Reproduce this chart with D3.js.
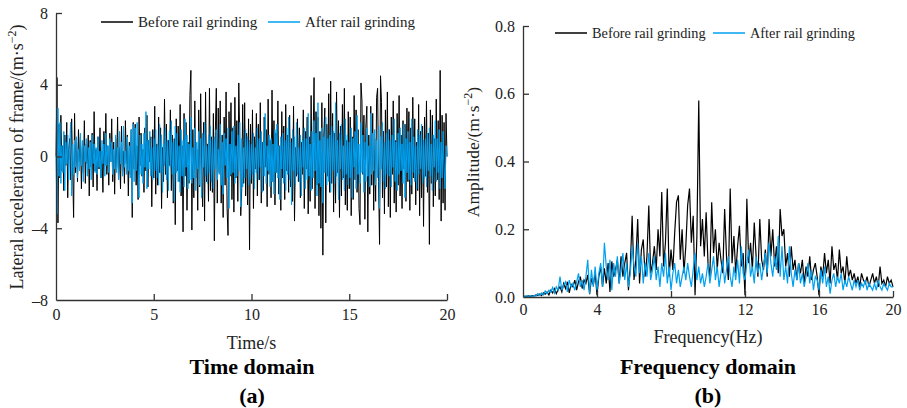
<!DOCTYPE html>
<html>
<head>
<meta charset="utf-8">
<script src="https://cdn.jsdelivr.net/npm/d3@7"></script>
<style>
  body { margin: 0; background: #fff; }
  svg { font-family: "Liberation Serif", "Times New Roman", serif; }
</style>
</head>
<body>
<svg id="chart" width="907" height="408"></svg>
<script>
"use strict";

// ---- data ----
const SERIES_NAMES = ["Before rail grinding", "After rail grinding"];
const TIME_STEP = 0.05; // s
const FREQ_STEP = 0.1; // Hz
const TIME_TICKS = [0, 5, 10, 15, 20];
const ACC_TICKS = [-8, -4, 0, 4, 8];
const FREQ_TICKS = [0, 4, 8, 12, 16, 20];
const AMP_TICKS = [0, 0.2, 0.4, 0.6, 0.8];

// lateral acceleration, before grinding (one row per second)
const accBefore = [
  0, 4.4, -3.7, 1.8, -1.2, 2.3, -0.8, 0.6, -1.9, 1.2, -0.5, 1.9, -2.3, 0.4, 1.0, -1.3, 2.1, -0.6, -3.4, 2.4,
  -0.9, 0.8, -1.4, 1.5, -0.3, 1.1, -1.8, 0.5, -0.9, 2.0, -1.5, 0.7, -0.4, 1.2, -2.2, 0.9, -0.6, 1.3, -1.7, 2.5,
  -0.8, 0.4, -1.9, 1.1, -0.7, 1.6, -1.2, 0.3, -2.0, 1.4, -0.5, 2.4, -1.0, 0.6, -1.6, 1.3, -0.3, 2.1, -1.4, 0.8,
  -2.1, 1.0, -0.6, 2.2, -1.3, 0.5, -1.8, 1.7, -0.9, 0.3, -1.5, 2.0, -0.4, 1.2, -2.2, 0.8, -1.0, 1.5, -3.4, 1.9,
  -0.7, 1.8, -1.6, 0.6, -2.4, 2.2, -0.5, 1.3, -1.1, 0.4, -2.0, 1.6, -0.8, 2.3, -1.7, 0.9, -0.3, 1.1, -2.8, 1.5,
  -1.2, 2.8, -2.1, 0.7, -1.6, 2.2, -0.9, 1.6, -2.9, 0.5, -1.4, 3.2, -1.0, 1.8, -2.3, 0.9, -0.5, 2.6, -1.9, 1.2,
  -2.6, 1.0, -3.8, 2.1, -0.8, 1.7, -1.4, 2.9, -2.2, 0.6, -4.2, 2.4, -1.1, 1.9, -3.0, 0.8, -1.5, 3.4, 4.8, -4.1,
  1.5, -2.3, 3.1, -1.2, 0.4, -3.0, 2.6, -1.7, 3.5, -0.8, -2.8, 1.9, -3.6, 3.6, -1.4, 0.7, -2.5, 3.8, -1.9, 1.1,
  -2.0, 2.4, -4.7, 1.4, 3.8, -2.6, 2.7, -0.9, 3.1, -2.6, 1.2, -3.4, 2.2, -1.6, 3.6, -2.9, -4.4, 2.5, -1.1, 3.0,
  -2.4, 1.6, -3.1, 3.3, -1.2, 2.0, -2.5, 4.1, 0.9, -3.3, -1.8, 2.9, -1.5, 3.0, -2.2, 1.3, -2.7, 2.1, -5.2, 1.8,
  -1.5, 2.6, -2.9, 1.1, -0.7, 2.4, -2.2, 1.8, -1.3, 3.0, -2.6, 0.8, -1.9, 2.2, -0.6, 1.5, -2.8, 3.2, -1.0, 0.9,
  -2.3, 3.7, -1.4, 2.0, -2.7, 1.3, -0.9, 3.1, -2.1, 0.6, -3.0, 2.5, -1.2, 1.7, -2.4, 2.9, -0.8, 1.2, -2.0, 2.3,
  -1.7, 1.0, -2.5, 2.8, -3.6, 0.5, -1.1, 2.1, -1.4, 1.6, -2.3, 0.8, -1.0, 2.6, -2.9, 1.4, -0.7, 2.2, -3.2, 1.1,
  -2.5, 3.4, -1.8, 0.9, 4.4, -2.9, 2.5, -1.6, 2.2, -3.3, 1.4, -4.0, 3.0, -5.5, 1.2, 2.7, -3.7, 1.8, -1.1, 3.5,
  -2.0, 4.2, -1.5, 2.4, -3.1, 1.3, -2.6, 3.6, -0.9, 2.0, -3.4, 1.7, -2.2, 2.9, -1.2, 3.8, -2.7, 0.9, -3.0, 2.5,
  -1.8, 2.2, -3.3, 1.1, -2.4, 3.4, -1.3, 2.6, -2.0, 1.5, -2.9, -3.8, 4.1, 3.1, -1.0, 2.3, -3.5, 1.7, 2.8, -4.2,
  1.2, -2.1, 2.8, -1.6, 2.4, -3.0, 1.0, -2.5, 3.3, 3.8, -1.4, -4.9, 4.5, 3.0, -2.3, 1.4, -3.2, 2.6, -1.7, 3.6,
  -2.8, 1.5, -3.4, 2.2, -1.0, 3.1, -2.6, 0.9, -3.1, 2.4, -1.6, 3.4, -2.2, 1.2, -2.9, 2.0, -0.7, 1.8, -2.5, 2.7,
  -1.4, 2.5, -3.0, 1.6, -2.1, 3.3, -1.2, 2.1, -2.7, 0.8, -1.9, 2.9, -3.3, 1.4, -2.3, 1.7, -3.9, 2.2, -1.1, 3.1,
  -2.0, 1.3, -4.9, 2.6, -1.5, 2.3, -2.8, 1.0, -2.2, 3.2, -1.3, 2.0, -2.4, 4.8, -3.6, 2.3, -2.6, 1.9, -3.0, 2.4,
  0
];

// lateral acceleration, after grinding
const accAfter = [
  0, -3.2, 2.7, -1.1, 1.9, -1.5, 0.6, -0.9, 1.4, -1.9, 0.8, -0.4, 1.2, -1.3, 0.5, 1.9, -2.2, 0.7, -1.0, 0.9,
  -0.6, 1.1, -1.2, 0.4, -0.8, 1.3, -0.5, 0.9, -1.4, 0.6, -0.3, 1.0, -1.1, 0.5, -0.7, 0.8, -1.3, 1.2, -0.4, 0.7,
  -0.9, 0.5, -1.0, 1.1, -0.6, 0.3, -1.2, 0.9, -0.4, 0.7, -1.1, 1.3, -0.5, 0.6, -0.9, 1.0, -0.3, 0.8, -1.0, 0.4,
  -0.7, 1.2, -0.9, 0.5, -1.3, 1.4, -0.4, 0.8, -1.1, 1.7, -0.6, 0.3, -1.0, 1.1, -0.8, 0.6, -1.2, 1.5, -2.6, 1.8,
  -1.4, 1.6, -0.8, 1.9, -0.5, -2.3, 1.2, -1.0, 0.7, -1.5, 1.3, -0.6, 2.5, -1.8, 0.9, -0.7, 1.4, -1.1, 0.5, -1.3,
  1.0, -0.8, 1.5, -1.2, 0.6, -1.6, 1.8, -0.9, 1.2, -2.0, 0.7, -0.5, 1.6, -1.3, 0.9, -1.9, 1.4, -0.6, 2.0, -1.0,
  0.8, -2.5, 1.7, -0.9, 1.3, -1.4, 0.6, -2.0, 1.5, -1.1, 0.9, -1.7, 2.1, -0.6, 1.2, -1.8, 0.7, -1.3, 2.2, -1.5,
  0.5, -1.2, 1.6, -1.9, 0.8, -0.7, 1.4, -1.6, 1.0, -2.3, 1.3, -0.6, 1.9, -1.1, 0.6, -1.5, 1.2, -0.9, 1.7, -1.4,
  0.9, -1.8, 1.1, -0.7, 1.5, -1.3, 0.4, -1.0, 1.8, -1.6, 0.8, -2.1, 1.3, -0.5, 1.0, -1.2, 1.6, -2.9, 0.7, -1.0,
  1.4, -0.9, 1.7, -1.5, 0.6, -1.1, 1.2, -0.8, 1.9, -2.8, 1.0, -1.7, 0.5, -1.2, 1.5, -0.7, 1.1, -1.6, 0.9, -1.3,
  0.7, -1.0, 1.3, -1.8, 0.5, -0.9, 1.6, -1.3, 1.0, -0.6, 1.4, -2.0, 0.8, -1.1, 2.4, -1.5, 0.6, -0.8, 1.2, -1.7,
  1.0, -1.4, 0.7, -2.1, 1.5, -0.9, 1.8, -1.2, 0.6, -2.4, 1.1, -0.7, 1.3, -1.5, 0.9, -1.9, 1.6, -1.0, 2.2, -1.3,
  0.8, -2.7, 1.5, -0.8, 1.1, -1.6, 1.9, -1.0, 0.5, -1.4, 1.2, -2.2, 0.9, -0.6, 1.6, -1.8, 1.0, -1.3, 2.4, -1.1,
  0.7, -1.9, 1.4, -1.2, 2.0, -0.8, 1.3, -2.2, 3.0, -1.5, 0.9, -1.7, 1.6, -2.6, 1.1, -0.9, 2.2, -1.6, 1.0, -1.4,
  1.2, -2.0, 1.7, -0.8, 1.4, -1.5, 3.0, -1.1, 0.9, -2.4, 1.3, -0.7, 1.8, -1.3, 0.6, -1.9, 2.1, -1.0, 1.2, -1.6,
  0.8, -1.2, 1.6, -2.3, 1.0, -0.6, 1.4, -1.8, 2.3, -1.0, 0.7, -1.5, 1.9, -0.9, 1.2, -2.0, 0.8, -1.4, 1.6, -1.1,
  0.6, -1.7, 2.4, -1.0, 1.3, -0.8, 1.5, -1.6, 0.9, -1.2, 1.7, -2.9, 1.1, -0.7, 1.9, -1.4, 0.8, -1.8, 1.3, -1.0,
  1.5, -1.1, 0.9, -1.7, 1.2, -0.6, 2.1, -1.4, 0.8, -1.9, 1.3, -1.0, 1.6, -0.8, 0.7, -1.5, 1.8, -2.3, 1.0, -0.9,
  1.4, -1.3, 0.8, -1.6, 2.1, -0.9, 1.1, -1.4, 0.6, -1.8, 1.5, -1.0, 1.2, -0.7, 1.8, -1.5, 0.9, -1.2, 1.0, -1.7,
  1.3, -0.8, 1.6, -1.1, 0.7, -1.9, 1.2, -0.6, 2.0, -1.4, 1.0, -0.9, 1.5, -1.8, 0.8, -1.2, 1.4, -0.7, -1.8, 0.6,
  0
];

// spectrum amplitude, before grinding (one row per Hz)
const ampBefore = [
  0.003, 0.002, 0.002, 0.003, 0.002, 0.004, 0.003, 0.006, 0.005, 0.009,
  0.004, 0.012, 0.008, 0.015, 0.006, 0.02, 0.012, 0.025, 0.01, 0.022,
  0.03, 0.015, 0.04, 0.025, 0.045, 0.012, 0.038, 0.03, 0.05, 0.02,
  0.045, 0.06, 0.025, 0.05, 0.04, 0.065, 0.008, 0.055, 0.035, 0.07,
  0.005, 0.06, 0.09, 0.03, 0.085, 0.04, 0.1, 0.015, 0.105, 0.06,
  0.08, 0.11, 0.04, 0.12, 0.06, 0.1, 0.13, 0.02, 0.09, 0.24,
  0.05, 0.11, 0.23, 0.04, 0.14, 0.17, 0.06, 0.12, 0.27, 0.07,
  0.1, 0.15, 0.08, 0.2, 0.12, 0.31, 0.09, 0.16, 0.32, 0.06,
  0.14, 0.08, 0.19, 0.28, 0.3, 0.11, 0.2, 0.07, 0.15, 0.27,
  0.32, 0.16, 0.24, 0.005, 0.18, 0.58, 0.15, 0.23, 0.12, 0.25,
  0.1, 0.06, 0.28, 0.13, 0.2, 0.08, 0.16, 0.11, 0.07, 0.26,
  0.12, 0.05, 0.32, 0.1, 0.18, 0.07, 0.15, 0.21, 0.09, 0.13,
  0.005, 0.29, 0.1, 0.16, 0.08, 0.22, 0.12, 0.06, 0.23, 0.11,
  0.08, 0.14, 0.06, 0.23, 0.12, 0.2, 0.09, 0.15, 0.07, 0.26,
  0.18, 0.2, 0.09, 0.13, 0.06, 0.15, 0.08, 0.11, 0.05, 0.1,
  0.07, 0.11, 0.04, 0.09, 0.06, 0.12, 0.05, 0.08, 0.1, 0.06,
  0.005, 0.09, 0.06, 0.13, 0.07, 0.11, 0.04, 0.15, 0.08, 0.1,
  0.05, 0.14, 0.07, 0.09, 0.04, 0.12, 0.06, 0.08, 0.05, 0.07,
  0.04, 0.06, 0.03, 0.07, 0.05, 0.04, 0.06, 0.03, 0.05, 0.07,
  0.04, 0.06, 0.03, 0.09, 0.04, 0.05, 0.03, 0.06, 0.04, 0.05,
  0.03
];

// spectrum amplitude, after grinding
const ampAfter = [
  0.002, 0.002, 0.003, 0.002, 0.003, 0.002, 0.004, 0.003, 0.01, 0.005,
  0.012, 0.006, 0.018, 0.01, 0.02, 0.015, 0.028, 0.012, 0.03, 0.02,
  0.06, 0.02, 0.035, 0.045, 0.015, 0.05, 0.03, 0.04, 0.02, 0.045,
  0.07, 0.03, 0.05, 0.02, 0.06, 0.11, 0.01, 0.08, 0.03, 0.09,
  0.02, 0.07, 0.1, 0.03, 0.16, 0.09, 0.05, 0.11, 0.02, 0.1,
  0.06, 0.12, 0.04, 0.08, 0.13, 0.05, 0.1, 0.03, 0.07, 0.15,
  0.09, 0.06, 0.16, 0.07, 0.12, 0.04, 0.1, 0.06, 0.13, 0.05,
  0.08, 0.12, 0.05, 0.09, 0.03, 0.1, 0.06, 0.13, 0.04, 0.09,
  0.02, 0.07, 0.1, 0.04, 0.08, 0.03, 0.06, 0.09, 0.05, 0.1,
  0.06, 0.03, 0.08, 0.13, 0.05, 0.09, 0.04, 0.07, 0.03, 0.06,
  0.1, 0.04, 0.08, 0.12, 0.05, 0.09, 0.03, 0.07, 0.11, 0.04,
  0.08, 0.12, 0.06, 0.03, 0.09, 0.05, 0.11, 0.04, 0.15, 0.07,
  0.05, 0.1, 0.14, 0.06, 0.09, 0.04, 0.12, 0.07, 0.1, 0.05,
  0.09, 0.13, 0.07, 0.16, 0.1, 0.06, 0.12, 0.08, 0.18, 0.06,
  0.15, 0.05, 0.09, 0.04, 0.15, 0.07, 0.03, 0.08, 0.05, 0.1,
  0.04, 0.07, 0.03, 0.06, 0.1, 0.04, 0.08, 0.02, 0.06, 0.05,
  0.02, 0.08, 0.04, 0.09, 0.03, 0.06, 0.01, 0.05, 0.07, 0.03,
  0.06, 0.04, 0.07, 0.02, 0.05, 0.03, 0.06, 0.04, 0.02, 0.05,
  0.03, 0.05, 0.02, 0.04, 0.03, 0.05, 0.02, 0.04, 0.03, 0.02,
  0.04, 0.02, 0.05, 0.03, 0.02, 0.04, 0.03, 0.02, 0.04, 0.03,
  0.03
];

const COLORS = ["#000000", "#00a0f0"];
const AXIS_COLOR = "#333";

const svg = d3.select("#chart");

function drawPanel(opts) {
  const x = d3.scaleLinear().domain(opts.xDomain).range([opts.left, opts.right]);
  const y = d3.scaleLinear().domain(opts.yDomain).range([opts.bottom, opts.top]);

  const g = svg.append("g").attr("class", opts.id);

  // lines: black first, blue on top
  opts.series.forEach((values, i) => {
    const line = d3.line()
      .x((d, j) => x(j * opts.step))
      .y((d) => y(d));
    g.append("path")
      .datum(values)
      .attr("fill", "none")
      .attr("stroke", COLORS[i])
      .attr("stroke-width", opts.lineWidth)
      .attr("d", line);
  });

  // axes (ticks point inward)
  const xAxis = g.append("g")
    .attr("transform", `translate(0,${opts.bottom})`)
    .call(d3.axisBottom(x).tickValues(opts.xTicks).tickSizeInner(-6).tickSizeOuter(0)
      .tickPadding(opts.xPad).tickFormat(opts.xFormat));
  const yAxis = g.append("g")
    .attr("transform", `translate(${opts.left},0)`)
    .call(d3.axisLeft(y).tickValues(opts.yTicks).tickSizeInner(-6).tickSizeOuter(0)
      .tickPadding(8).tickFormat(opts.yFormat));

  [xAxis, yAxis].forEach((ax) => {
    ax.select(".domain").attr("stroke", AXIS_COLOR).attr("stroke-width", 1.3);
    ax.selectAll(".tick line").attr("stroke", AXIS_COLOR).attr("stroke-width", 1.3);
    ax.selectAll(".tick text")
      .attr("fill", "#222")
      .style("font-family", '"Liberation Serif", serif')
      .style("font-size", "16px");
  });
  // hide the tick line that sits on the other axis
  xAxis.selectAll(".tick").filter((d) => d === opts.xDomain[0]).select("line").remove();
  yAxis.selectAll(".tick").filter((d) => d === opts.yDomain[0]).select("line").remove();

  // legend
  opts.legend.forEach((lg, i) => {
    g.append("line")
      .attr("x1", lg.x).attr("x2", lg.x + 32)
      .attr("y1", opts.legendY).attr("y2", opts.legendY)
      .attr("stroke", COLORS[i]).attr("stroke-width", 1.5);
    g.append("text")
      .attr("x", lg.x + 37).attr("y", opts.legendY + 5)
      .style("font-size", opts.legendSize)
      .attr("fill", "#222")
      .text(SERIES_NAMES[i]);
  });

  // axis titles
  g.append("text")
    .attr("x", (opts.left + opts.right) / 2)
    .attr("y", opts.xTitleY)
    .attr("text-anchor", "middle")
    .style("font-size", "18px")
    .attr("fill", "#222")
    .text(opts.xTitle);

  const yt = g.append("text")
    .attr("transform", `translate(${opts.yTitleX},${opts.yTitleY}) rotate(-90)`)
    .attr("text-anchor", "middle")
    .style("font-size", opts.yTitleSize)
    .attr("fill", "#222");
  yt.append("tspan").text(opts.yTitle + "/(m·s");
  yt.append("tspan").attr("dy", -7).style("font-size", "12px").text("−2");
  yt.append("tspan").attr("dy", 7).text(")");

  // panel captions
  g.append("text")
    .attr("x", opts.captionX).attr("y", 374)
    .attr("text-anchor", "middle")
    .style("font-size", "22px").style("font-weight", "bold")
    .text(opts.caption);
  g.append("text")
    .attr("x", opts.captionX).attr("y", 403)
    .attr("text-anchor", "middle")
    .style("font-size", "22px").style("font-weight", "bold")
    .text(opts.label);
}

drawPanel({
  id: "time",
  left: 56, right: 447, top: 13, bottom: 300,
  xDomain: [0, 20], yDomain: [-8, 8],
  xTicks: TIME_TICKS, yTicks: ACC_TICKS,
  xFormat: d3.format("d"),
  yFormat: (d) => (d < 0 ? "–" + Math.abs(d) : String(d)),
  xPad: 9,
  step: TIME_STEP,
  series: [accBefore, accAfter],
  lineWidth: 1,
  legendY: 22,
  legendSize: "15px",
  legend: [{ x: 101 }, { x: 268 }],
  xTitle: "Time/s", xTitleY: 349,
  yTitle: "Lateral acceleration of frame",
  yTitleX: 23, yTitleY: 157, yTitleSize: "18px",
  caption: "Time domain", label: "(a)", captionX: 252
});

drawPanel({
  id: "freq",
  left: 523, right: 893, top: 26, bottom: 297,
  xDomain: [0, 20], yDomain: [0, 0.8],
  xTicks: FREQ_TICKS, yTicks: AMP_TICKS,
  xFormat: d3.format("d"),
  yFormat: d3.format(".1f"),
  xPad: 7,
  step: FREQ_STEP,
  series: [ampBefore, ampAfter],
  lineWidth: 1.2,
  legendY: 33,
  legendSize: "14.3px",
  legend: [{ x: 555 }, { x: 713 }],
  xTitle: "Frequency(Hz)", xTitleY: 343,
  yTitle: "Amplitude",
  yTitleX: 479, yTitleY: 152, yTitleSize: "17.5px",
  caption: "Frequency domain", label: "(b)", captionX: 708
});
</script>
</body>
</html>
